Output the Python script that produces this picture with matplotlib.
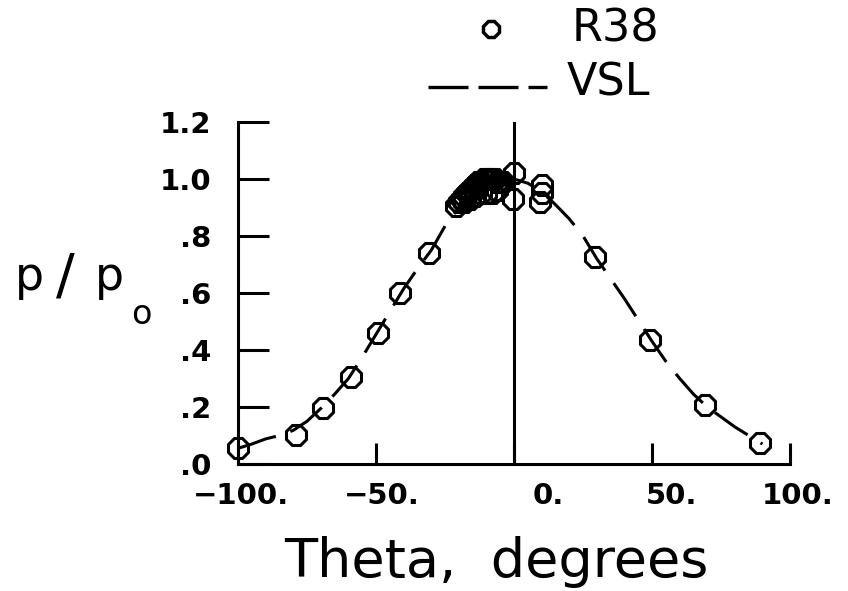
import matplotlib
matplotlib.use("Agg")
import matplotlib.pyplot as plt
import matplotlib.transforms as mtransforms
from matplotlib.lines import Line2D

# R38 measured points
r38_theta = [-100, -79, -69.2, -59, -49.3, -41.3, -30.8,
             -21, -20, -19, -18, -17, -16, -15, -14, -13, -12, -11, -10,
             -9, -8, -7, -6, -5, -4,
             -18, -16, -14, -12, -10, -8, -6,
             0, -0.5, 10, 9.5, 10,
             29.3, 49.3, 69.2, 89]
r38_p = [0.056, 0.10, 0.197, 0.305, 0.46, 0.60, 0.74,
         0.905, 0.92, 0.93, 0.94, 0.95, 0.96, 0.97, 0.98, 0.99, 0.99, 1.0, 1.0,
         1.0, 1.0, 1.0, 0.99, 0.99, 0.99,
         0.92, 0.93, 0.94, 0.95, 0.95, 0.95, 0.96,
         1.02, 0.93, 0.98, 0.92, 0.95,
         0.725, 0.435, 0.207, 0.073]

# VSL prediction
vsl_theta = [-100, -95, -90, -85, -80, -75, -70, -65, -60, -55, -50, -45, -40,
             -35, -30, -25, -20, -15, -10, -5, 0, 5, 10, 15, 20, 25, 30, 35,
             40, 45, 50, 55, 60, 65, 70, 75, 80, 85, 90]
vsl_p = [0.055, 0.07, 0.088, 0.10, 0.118, 0.15, 0.195, 0.245, 0.30, 0.375,
         0.455, 0.535, 0.615, 0.685, 0.75, 0.835, 0.90, 0.95, 0.98, 0.995,
         1.0, 0.985, 0.955, 0.91, 0.86, 0.80, 0.72, 0.65, 0.58, 0.505, 0.43,
         0.36, 0.30, 0.245, 0.20, 0.165, 0.13, 0.10, 0.07]

xticks = [-100, -50, 0, 50, 100]
xlabels = ['\u2212100.', '\u221250.', '0.', '50.', '100.']
yticks = [0, 0.2, 0.4, 0.6, 0.8, 1.0, 1.2]
ylabels = ['.0', '.2', '.4', '.6', '.8', '1.0', '1.2']

fig = plt.figure(figsize=(8.48, 5.91), dpi=100)
ax = fig.add_axes([0.2807, 0.2149, 0.651, 0.5787])

ax.plot(vsl_theta, vsl_p, color='black', lw=2.2, dashes=(13, 5), clip_on=False)
ax.plot(r38_theta, r38_p, linestyle='none', marker='8', markersize=16,
        markerfacecolor='none', markeredgecolor='black', markeredgewidth=2.2,
        clip_on=False, zorder=3)
ax.axvline(0, color='black', lw=2.2)

ax.set_xlim(-100, 100)
ax.set_ylim(0, 1.2)
for s in ['top', 'right']:
    ax.spines[s].set_visible(False)
for s in ['left', 'bottom']:
    ax.spines[s].set_linewidth(2.2)

ax.set_xticks(xticks)
ax.set_xticklabels(xlabels, fontsize=21, fontweight='bold')
ax.set_yticks(yticks)
ax.set_yticklabels(ylabels, fontsize=21, fontweight='bold')
ax.tick_params(axis='x', direction='in', length=15, width=2.2, pad=13)
ax.tick_params(axis='y', direction='in', length=22, width=2.2, pad=19)

# the old plotter put the x labels a bit right of their ticks
shifts = [3, 6, 34, 19, 8]
for lab, dx in zip(ax.get_xticklabels(), shifts):
    lab.set_transform(lab.get_transform() +
                      mtransforms.ScaledTranslation(dx / 100, 0, fig.dpi_scale_trans))

fig.text(0.585, 0.0237, 'Theta,  degrees', fontsize=39, ha='center', va='baseline')

# y label p/p_o, pieces placed like the original lettering
fig.text(15 / 848, 1 - 290 / 591, 'p', fontsize=33, ha='left', va='baseline')
fig.text(65 / 848, 1 - 278 / 591, '/', fontsize=40, ha='center', va='center')
fig.text(95 / 848, 1 - 290 / 591, 'p', fontsize=33, ha='left', va='baseline')
fig.text(141 / 848, 1 - 314 / 591, 'o', fontsize=24, ha='center', va='center')

# legend drawn by hand at the top
fig.add_artist(Line2D([491 / 848], [1 - 29 / 591], transform=fig.transFigure, marker='8',
                      markersize=12, markerfacecolor='none', markeredgecolor='black',
                      markeredgewidth=2.5, linestyle='none'))
fig.add_artist(Line2D([428 / 848, 547 / 848], [1 - 87 / 591, 1 - 87 / 591],
                      transform=fig.transFigure, color='black', lw=2.4, dashes=(12, 3)))
fig.text(572 / 848, 1 - 29 / 591, 'R38', fontsize=32, ha='left', va='center')
fig.text(567 / 848, 1 - 83 / 591, 'VSL', fontsize=32, ha='left', va='center')

fig.savefig('out.png', dpi=100)
